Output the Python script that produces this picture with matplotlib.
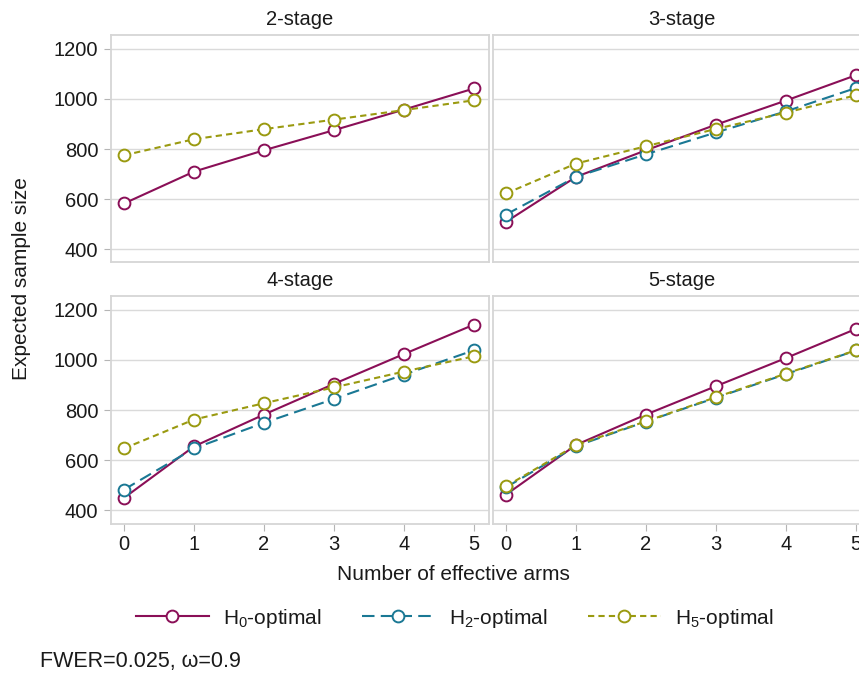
import numpy as np
import matplotlib
matplotlib.use("Agg")
import matplotlib.pyplot as plt
from matplotlib.lines import Line2D

plt.rcParams['font.family'] = ['Liberation Sans', 'DejaVu Sans']
plt.rcParams['mathtext.fontset'] = 'custom'
plt.rcParams['mathtext.rm'] = 'Liberation Sans'
plt.rcParams['mathtext.it'] = 'Liberation Sans:italic'

# ---- data ----
arms = [0, 1, 2, 3, 4, 5]
panel_titles = ["2-stage", "3-stage", "4-stage", "5-stage"]
series_labels = [r"H$_\mathregular{0}$-optimal", r"H$_\mathregular{2}$-optimal", r"H$_\mathregular{5}$-optimal"]

h0_2stage = [583, 710, 795, 875, 957, 1041]
h2_2stage = [np.nan] * 6
h5_2stage = [775, 839, 879, 917, 955, 994]

h0_3stage = [510, 689, 795, 897, 993, 1094]
h2_3stage = [539, 689, 779, 866, 950, 1043]
h5_3stage = [623, 742, 811, 880, 945, 1014]

h0_4stage = [450, 655, 782, 904, 1023, 1140]
h2_4stage = [483, 647, 749, 844, 941, 1038]
h5_4stage = [647, 762, 827, 890, 953, 1014]

h0_5stage = [463, 661, 782, 895, 1007, 1123]
h2_5stage = [492, 656, 754, 849, 943, 1037]
h5_5stage = [496, 660, 755, 851, 945, 1038]

yticks = [400, 600, 800, 1000, 1200]
footnote = "FWER=0.025, ω=0.9"

panels = [
    (h0_2stage, h2_2stage, h5_2stage),
    (h0_3stage, h2_3stage, h5_3stage),
    (h0_4stage, h2_4stage, h5_4stage),
    (h0_5stage, h2_5stage, h5_5stage),
]

# ---- styles ----
colors = ["#8a0f57", "#1a7894", "#9a9a10"]
dashes = [None, (6, 3), (3, 2)]
W, H = 859, 675
fig = plt.figure(figsize=(W / 100, H / 100), dpi=100)

frame_col = "#d6d6d6"
grid_col = "#dadada"
text_col = "#1a1a1a"
fs = 14.5
lw = 1.5
ms = 8.5

lefts = [111, 493]
rights = [489, 871]
tops = [35, 296]
bottoms = [262.5, 523.5]

def fr(l, r, t, b):
    return [l / W, 1 - b / H, (r - l) / W, (b - t) / H]

axes = []
for i in range(4):
    row, col = divmod(i, 2)
    ax = fig.add_axes(fr(lefts[col], rights[col], tops[row], bottoms[row]))
    axes.append(ax)
    ax.set_xlim(-0.186, 5.214)
    ax.set_ylim(348, 1254)
    ax.set_yticks(yticks)
    ax.set_xticks(arms)
    ax.grid(axis='y', color=grid_col, lw=1.0)
    ax.set_axisbelow(True)
    for s in ax.spines.values():
        s.set_color(frame_col)
        s.set_linewidth(1.3)
    ax.tick_params(axis='both', colors="#b5b5b5", labelcolor=text_col,
                   labelsize=fs, length=5, width=0.8)
    ax.tick_params(axis='y', pad=4)
    ax.tick_params(axis='x', pad=3)
    if col == 1:
        ax.tick_params(axis='y', left=False, labelleft=False)
    if row == 0:
        ax.tick_params(axis='x', bottom=False, labelbottom=False)
    ax.set_title(panel_titles[i], fontsize=fs, color=text_col, pad=7)
    for k, vals in enumerate(panels[i]):
        ln, = ax.plot(arms, vals, color=colors[k], lw=lw, marker='o',
                      markersize=ms, markerfacecolor='white',
                      markeredgecolor=colors[k], markeredgewidth=1.4,
                      clip_on=False, zorder=3 + k)
        if dashes[k] is not None:
            ln.set_dashes(dashes[k])

fig.text(22 / W, 1 - 279 / H, "Expected sample size", rotation=90,
         ha='center', va='center', fontsize=fs + 0.5, color=text_col)
fig.text(453 / W, 1 - 574 / H, "Number of effective arms",
         ha='center', va='center', fontsize=fs + 0.5, color=text_col)

handles = []
for k in range(3):
    h = Line2D([0], [0], color=colors[k], lw=lw, marker='o', markersize=ms,
               markerfacecolor='white', markeredgecolor=colors[k],
               markeredgewidth=1.4)
    if dashes[k] is not None:
        h.set_dashes(dashes[k])
    handles.append(h)
fig.legend(handles, series_labels, loc='center', bbox_to_anchor=(455 / W, 1 - 618 / H),
           ncol=3, frameon=False, fontsize=fs + 0.5, handlelength=3.5,
           handletextpad=0.7, columnspacing=1.9, numpoints=1,
           labelcolor=text_col)

fig.text(40 / W, 1 - 662 / H, footnote, ha='left', va='center',
         fontsize=15.5, color=text_col)

fig.savefig("out.png", dpi=100)
